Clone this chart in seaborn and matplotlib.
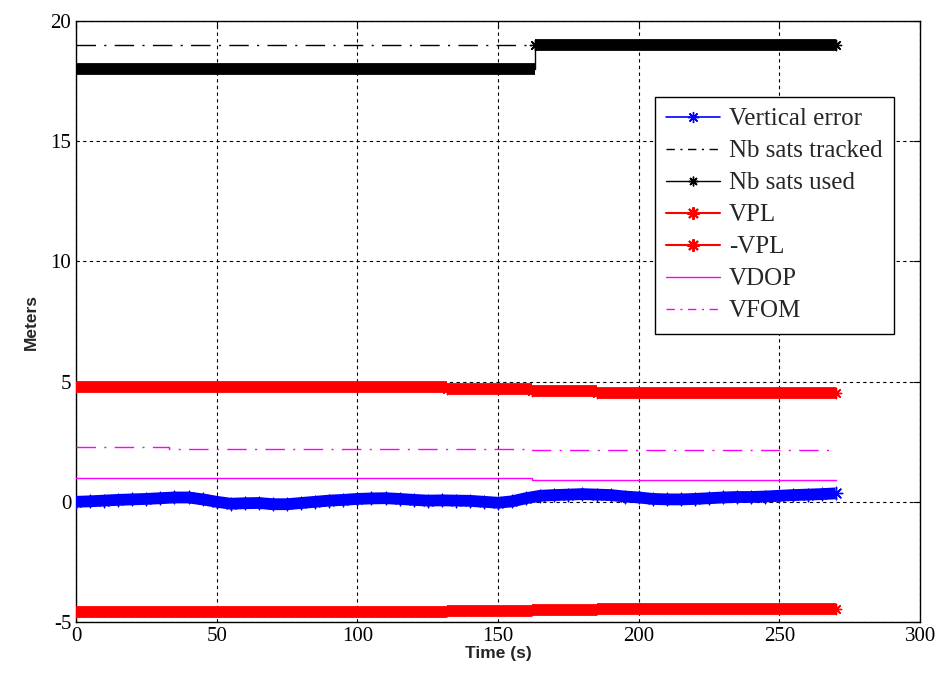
import numpy as np
import pandas as pd
import matplotlib.pyplot as plt
from matplotlib.lines import Line2D
import seaborn as sns

# ─── Datos ───────────────────────────────────────────────────
# Error vertical (m), una muestra cada 5 s
ERR_T = list(range(0, 271, 5))
ERR_V = [0.00, 0.02, 0.05, 0.08, 0.10, 0.12, 0.15, 0.18, 0.18, 0.10,
         0.00, -0.08, -0.06, -0.05, -0.10, -0.10, -0.05, 0.00, 0.05, 0.08,
         0.12, 0.14, 0.15, 0.12, 0.08, 0.05, 0.06, 0.05, 0.04, 0.00,
         -0.04, 0.02, 0.15, 0.25, 0.28, 0.30, 0.32, 0.30, 0.28, 0.22,
         0.18, 0.12, 0.10, 0.10, 0.12, 0.15, 0.18, 0.20, 0.20, 0.22,
         0.25, 0.28, 0.30, 0.32, 0.35]

# Series escalonadas: instantes de cambio y niveles
TRACK_T = [0, 270]
TRACK_V = [19, 19]
USED_T = [0, 163, 270]
USED_V = [18, 19, 19]
VPL_T = [0, 132, 162, 185, 270]
VPL_V = [4.76, 4.68, 4.60, 4.53, 4.53]
NVPL_V = [-4.59, -4.55, -4.49, -4.44, -4.44]
VDOP_T = [0, 162, 270]
VDOP_V = [1.01, 0.91, 0.91]
VFOM_T = [0, 33, 162, 270]
VFOM_V = [2.26, 2.20, 2.15, 2.15]

LABELS = ["Vertical error", "Nb sats tracked", "Nb sats used",
          "VPL", "-VPL", "VDOP", "VFOM"]

BLUE, RED, MAG, BLACK = "#0000ff", "#ff0000", "#ff00ff", "#000000"
DASHDOT = (0, (14, 6, 1.5, 6))
BAND = 8.5
STAR = (8, 2, 0)   # asterisco estilo MATLAB

# ─── Estilo ──────────────────────────────────────────────────
sns.set_theme(style="white")
plt.rcParams.update({
    "font.family": ["Liberation Serif", "DejaVu Serif"],
    "axes.unicode_minus": False,
    "xtick.direction": "in",
    "ytick.direction": "in",
    "xtick.top": True,
    "ytick.right": True,
    "axes.edgecolor": "black",
    "axes.linewidth": 1.0,
})

fig = plt.figure(figsize=(9.36, 6.8), dpi=100)
ax = fig.add_axes([0.0812, 0.0853, 0.9018, 0.8838])


def banded_step(ax, t, v, color, z=4):
    # línea fina escalonada + banda gruesa de marcadores por tramo
    df = pd.DataFrame({"t": t, "v": v})
    sns.lineplot(data=df, x="t", y="v", ax=ax, drawstyle="steps-post",
                 color=color, lw=1.0, legend=False, zorder=z)
    ax.hlines(v[:-1], t[:-1], t[1:], color=color, lw=BAND, zorder=z)
    sns.scatterplot(data=df, x="t", y="v", ax=ax, marker=STAR, s=55,
                    color=color, edgecolor=color, linewidth=1.0,
                    legend=False, zorder=z)


sns.lineplot(x=ERR_T, y=ERR_V, ax=ax, color=BLUE, lw=BAND,
             solid_capstyle="butt", legend=False, zorder=5)
sns.scatterplot(x=ERR_T, y=ERR_V, ax=ax, marker=STAR, s=80, color=BLUE,
                edgecolor=BLUE, linewidth=1.0, legend=False, zorder=5)

sns.lineplot(x=TRACK_T, y=TRACK_V, ax=ax, color=BLACK, lw=1.0,
             linestyle=DASHDOT, legend=False, zorder=3)
banded_step(ax, USED_T, USED_V, BLACK)
banded_step(ax, VPL_T, VPL_V, RED)
banded_step(ax, VPL_T, NVPL_V, RED)
sns.lineplot(x=VDOP_T, y=VDOP_V, ax=ax, color=MAG, lw=1.0,
             drawstyle="steps-post", legend=False, zorder=3)
sns.lineplot(x=VFOM_T, y=VFOM_V, ax=ax, color=MAG, lw=1.0,
             linestyle=DASHDOT, drawstyle="steps-post", legend=False,
             zorder=3)

ax.set_xlim(0, 300)
ax.set_ylim(-5, 20)
ax.set_xticks(np.arange(0, 301, 50))
ax.set_yticks(np.arange(-5, 21, 5))
ax.tick_params(labelsize=15, length=5, width=0.8, colors="black")
ax.grid(True, color="black", linestyle=(0, (3, 3)), linewidth=0.8)

ax.set_xlabel("Time (s)", fontsize=12.5, fontweight="bold",
              family="Liberation Sans", labelpad=0)
ax.set_ylabel("Meters", fontsize=12.5, fontweight="bold",
              family="Liberation Sans", labelpad=8)

handles = [
    Line2D([], [], color=BLUE, lw=1.2, marker=STAR, ms=8),
    Line2D([], [], color=BLACK, lw=1.0, linestyle=(0, (6, 4, 1.5, 4))),
    Line2D([], [], color=BLACK, lw=1.0, marker=STAR, ms=7),
    Line2D([], [], color=RED, lw=1.5, marker=STAR, ms=9, mew=1.5),
    Line2D([], [], color=RED, lw=1.5, marker=STAR, ms=9, mew=1.5),
    Line2D([], [], color=MAG, lw=1.0),
    Line2D([], [], color=MAG, lw=1.0, linestyle=(0, (6, 4, 1.5, 4))),
]
leg = ax.legend(handles, LABELS, loc="upper left",
                bbox_to_anchor=(0.686, 0.874), fontsize=18,
                frameon=True, fancybox=False, framealpha=1,
                edgecolor="black", handlelength=2.15, handletextpad=0.35,
                labelspacing=0.38, borderpad=0.45, borderaxespad=0)
leg.get_frame().set_linewidth(1.0)
leg.set_zorder(10)

fig.savefig("out.png", dpi=100)
